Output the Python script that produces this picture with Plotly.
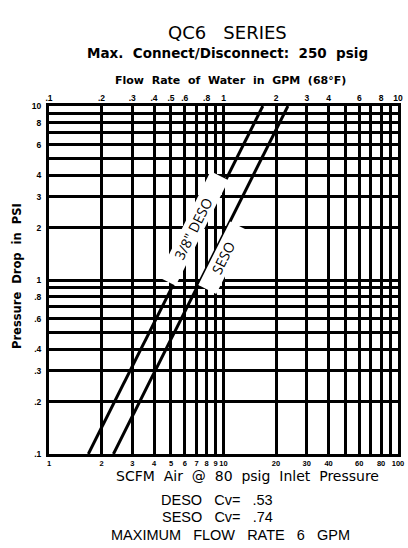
import numpy as np
import plotly.graph_objects as go

# ---------------- data ----------------
scfm_ticks = [1, 2, 3, 4, 5, 6, 7, 8, 9, 10, 20, 30, 40, 50, 60, 70, 80, 90, 100]
scfm_labels = ["1", "2", "3", "4", "5", "6", "7", "8", "9", "10",
               "20", "30", "40", "", "60", "", "80", "", "100"]
gpm_ticks = [0.1, 0.2, 0.3, 0.4, 0.5, 0.6, 0.7, 0.8, 0.9, 1, 2, 3, 4, 5, 6, 7, 8, 9, 10]
gpm_labels = [".1", ".2", ".3", ".4", ".5", ".6", "", ".8", "", "1",
              "2", "3", "4", "", "6", "", "8", "", "10"]
psi_ticks = [0.1, 0.2, 0.3, 0.4, 0.5, 0.6, 0.7, 0.8, 0.9, 1, 2, 3, 4, 5, 6, 7, 8, 9, 10]
psi_labels = [".1", ".2", ".3", ".4", "", ".6", "", ".8", "", "1",
              "2", "3", "4", "", "6", "", "8", "", "10"]

deso_scfm = [1.68, 16.8]
deso_psi = [0.1, 10]
seso_scfm = [2.34, 23.4]
seso_psi = [0.1, 10]
gpm_range = [0.1, 10]

# ---------------- figure ----------------
fig = go.Figure()
line_style = dict(color="black", width=3)
fig.add_trace(go.Scatter(x=deso_scfm, y=deso_psi, mode="lines", line=line_style,
                         showlegend=False, hoverinfo="skip"))
fig.add_trace(go.Scatter(x=seso_scfm, y=seso_psi, mode="lines", line=line_style,
                         showlegend=False, hoverinfo="skip"))
fig.add_trace(go.Scatter(x=gpm_range, y=[0.1, 0.1], xaxis="x2", mode="lines",
                         line=dict(width=0), showlegend=False, hoverinfo="skip"))

tick_font = dict(family="Liberation Sans", size=8.5, color="black", weight="bold")
bottom_tick_font = dict(family="Liberation Sans", size=7.5, color="black", weight="bold")
cad_font = "DejaVu Sans"


def interp_log(xs, ys, yv):
    lx = np.log10(xs)
    ly = np.log10(ys)
    t = (np.log10(yv) - ly[0]) / (ly[1] - ly[0])
    return lx[0] + t * (lx[1] - lx[0])


angle = -63.4
label_font = dict(family="Open Sans", size=14, color="black")

# DESO label box
py = 1.9
fig.add_annotation(x=interp_log(deso_scfm, deso_psi, py), y=np.log10(py), xref="x", yref="y",
                   text='3/8" DESO', showarrow=False, textangle=angle, bgcolor="white",
                   width=115, height=17, borderpad=1, font=label_font, xshift=-7, yshift=3.5)
# SESO label box
py2 = 1.43
fig.add_annotation(x=interp_log(seso_scfm, seso_psi, py2), y=np.log10(py2), xref="x", yref="y",
                   text="SESO", showarrow=False, textangle=angle, bgcolor="white",
                   width=68, height=17, borderpad=1, font=label_font, xshift=9, yshift=-4.5)

top, bot = 106, 454
left, right = 49, 398


def px_paper(p):
    return (p - left) / (right - left)


def py_paper(p):
    return (bot - p) / (bot - top)


texts = [
    ("QC6   SERIES", 227, 32, dict(family=cad_font, size=18, color="black")),
    ("Max.  Connect/Disconnect:  250  psig", 227, 53,
     dict(family=cad_font, size=13.5, color="black", weight="bold")),
    ("Flow  Rate  of  Water  in  GPM  (68°F)", 230, 80,
     dict(family=cad_font, size=11, color="black", weight="bold")),
    ("SCFM  Air  @  80  psig  Inlet  Pressure", 247, 476,
     dict(family=cad_font, size=14, color="black")),
    ("DESO   Cv=   .53", 217, 500, dict(family="Liberation Sans", size=14.5, color="black")),
    ("SESO   Cv=   .74", 217, 517, dict(family="Liberation Sans", size=14.5, color="black")),
    ("MAXIMUM   FLOW   RATE   6   GPM", 230, 535,
     dict(family="Liberation Sans", size=14.5, color="black")),
]
for txt, px, pyy, f in texts:
    fig.add_annotation(x=px_paper(px), y=py_paper(pyy), xref="paper", yref="paper",
                       text=txt, showarrow=False, font=f, xanchor="center", yanchor="middle")

fig.add_annotation(x=px_paper(17), y=py_paper(276), xref="paper", yref="paper",
                   text="Pressure  Drop  in  PSI", showarrow=False, textangle=-90,
                   font=dict(family=cad_font, size=11.5, color="black", weight="bold"),
                   xanchor="center", yanchor="middle")

fig.update_layout(
    width=408, height=548,
    margin=dict(l=left, r=408 - right, t=top, b=548 - bot, autoexpand=False),
    paper_bgcolor="white", plot_bgcolor="white", showlegend=False,
    xaxis=dict(type="log", range=[0, 2], tickvals=scfm_ticks, ticktext=scfm_labels,
               showgrid=True, gridcolor="black", gridwidth=3, automargin=False,
               showline=True, linecolor="black", linewidth=3, mirror=True, tickangle=0,
               ticks="", tickfont=bottom_tick_font, zeroline=False, ticklabelstandoff=0),
    xaxis2=dict(type="log", range=[-1, 1], overlaying="x", side="top", anchor="y",
                tickvals=gpm_ticks, ticktext=gpm_labels, showgrid=False, automargin=False,
                ticks="", tickfont=tick_font, showline=False, tickangle=0, ticklabelstandoff=2),
    yaxis=dict(type="log", range=[-1, 1], tickvals=psi_ticks, ticktext=psi_labels,
               showgrid=True, gridcolor="black", gridwidth=3, automargin=False,
               showline=True, linecolor="black", linewidth=3, mirror=True,
               ticks="", tickfont=tick_font, zeroline=False, ticklabelstandoff=3),
)

fig.write_html("out.html")
